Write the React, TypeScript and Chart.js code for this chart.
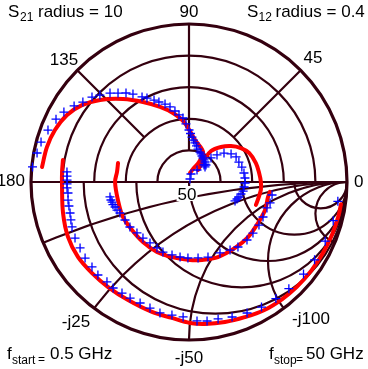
import React, { useEffect, useRef } from "react";
import { Chart, registerables } from "chart.js";
Chart.register(...registerables);

// ---- Data (magnitude, phase in degrees) ----
const S21_FULL_SCALE = 10;
const S12_FULL_SCALE = 0.4;

const s21SimMag = [9.35, 9.26, 9.1, 8.81, 8.34, 7.66, 6.71, 5.84, 5.09, 4.48, 3.81, 2.69, 2.1, 1.42, 0.86, 0.57];
const s21SimAng = [174.2, 166.2, 158.8, 151.2, 144.3, 137.3, 128.5, 119.9, 111.1, 103.1, 94.8, 81.9, 65.0, 63.4, 72.9, 83.7];

const s21MeasMag = [9.95, 9.79, 9.7, 9.51, 9.31, 9.07, 8.72, 8.41, 8.16, 7.88, 7.53, 7.2, 6.9, 6.6, 6.15, 5.94, 5.64, 5.41, 5.16, 4.9, 4.58, 4.29, 4.07, 3.68, 3.29, 3.07, 2.85, 2.67, 2.5, 2.33, 2.16, 2.02, 1.93, 1.84, 1.76, 1.69, 1.62, 1.52, 1.52, 1.39];
const s21MeasAng = [174.5, 169.2, 164.9, 159.8, 154.7, 150.8, 146.5, 143.0, 138.8, 135.7, 131.6, 128.6, 125.3, 122.5, 118.9, 116.6, 113.1, 110.6, 107.1, 104.2, 101.2, 98.5, 95.4, 93.0, 90.0, 88.2, 86.2, 83.9, 81.3, 78.2, 74.7, 69.9, 66.8, 63.4, 59.7, 55.7, 51.3, 48.4, 45.0, 43.2];

const s12SimMag = [0.038, 0.0674, 0.0962, 0.12, 0.14, 0.157, 0.169, 0.176, 0.179, 0.182, 0.183, 0.18, 0.179];
const s12SimAng = [53.1, 55.7, 54.6, 47.6, 40.6, 33.2, 25.8, 15.8, 7.3, 0, -6.3, -14.6, -18.9];

const s12MeasMag = [0.008, 0.0209, 0.0365, 0.0574, 0.0825, 0.0985, 0.115, 0.128, 0.135, 0.136, 0.139, 0.141, 0.142, 0.142, 0.14, 0.139, 0.135, 0.132, 0.129, 0.126];
const s12MeasAng = [71.6, 76.0, 56.3, 48.6, 47.5, 44.0, 39.6, 33.7, 28.0, 21.8, 15.8, 9.3, 4.1, -1.0, -5.2, -9.5, -13.0, -16.7, -19.5, -22.4];

const s11SimMag = [0.81, 0.806, 0.804, 0.821, 0.841, 0.848, 0.842, 0.839, 0.841, 0.855, 0.867, 0.892, 0.904, 0.915, 0.925, 0.94, 0.947, 0.952, 0.956, 0.96, 0.965, 0.97, 0.972];
const s11SimAng = [170.1, 175.5, -178.6, -166.2, -155.6, -146.0, -136.8, -127.6, -117.3, -105.9, -97.1, -89.6, -83.6, -75.6, -67.6, -59.7, -51.6, -44.2, -35.8, -27.4, -19.6, -12.7, -8.3];

const s11MeasMag = [0.775, 0.773, 0.772, 0.772, 0.773, 0.769, 0.774, 0.775, 0.778, 0.785, 0.793, 0.804, 0.806, 0.815, 0.816, 0.824, 0.818, 0.825, 0.821, 0.824, 0.826, 0.835, 0.849, 0.849, 0.855, 0.881, 0.887, 0.886, 0.897, 0.907, 0.915, 0.92, 0.925, 0.93, 0.935, 0.94, 0.945, 0.95];
const s11MeasAng = [175.3, 177.2, 179.1, -179.1, -177.2, -174.8, -171.5, -168.7, -165.4, -162.2, -159.0, -153.8, -148.8, -143.8, -138.8, -134.4, -129.4, -125.6, -121.1, -116.9, -112.0, -107.2, -102.5, -97.3, -92.5, -86.7, -82.6, -78.0, -72.3, -66.1, -59.9, -53.3, -46.9, -38.8, -31.8, -23.5, -15.0, -7.4];

const s22SimMag = [0.465, 0.46, 0.468, 0.464, 0.473, 0.472, 0.479, 0.487, 0.487, 0.494, 0.5, 0.509, 0.509, 0.511, 0.508, 0.513, 0.509, 0.516];
const s22SimAng = [165.0, 172.1, 180.0, -165.8, -152.1, -139.9, -127.5, -114.6, -102.8, -89.3, -80.5, -68.9, -55.1, -43.0, -30.7, -20.2, -10.8, -7.0];

const s22MeasMag = [0.509, 0.507, 0.503, 0.502, 0.494, 0.489, 0.479, 0.471, 0.47, 0.461, 0.459, 0.458, 0.464, 0.473, 0.474, 0.478, 0.481, 0.484, 0.49, 0.49, 0.503, 0.515, 0.519, 0.518, 0.52, 0.518, 0.52, 0.53, 0.532];
const s22MeasAng = [-169.3, -167.0, -165.4, -163.5, -161.3, -158.7, -155.8, -149.3, -142.7, -135.6, -129.4, -122.6, -115.9, -110.4, -103.1, -96.8, -90.8, -83.2, -75.8, -66.4, -58.9, -53.0, -45.0, -38.6, -31.6, -25.3, -18.4, -14.5, -8.9];

// ---- Grid definitions ----
const polarRings = [0.2, 0.4, 0.6, 0.8];
const polarSpokes = [45, 90, 135];
const polarSpokeStart = [0.4, 0.2, 0.4];
const smithR = [0.2, 0.5, 1, 2, 5];
const smithX = [0.2, 0.5, 1, 2, 5];

const GRID = "#34000f";
const FONT = '"Liberation Sans", Arial, Helvetica, sans-serif';

function toPoints(mag: number[], ang: number[], full: number) {
  return mag.map((m, i) => {
    const t = (ang[i] * Math.PI) / 180;
    return { x: (m / full) * Math.cos(t), y: (m / full) * Math.sin(t) };
  });
}

const gridPlugin = {
  id: "smithPolarGrid",
  beforeDatasetsDraw(chart: any) {
    const { ctx, scales } = chart;
    const xs = scales.x;
    const ys = scales.y;
    const cx = xs.getPixelForValue(0);
    const cy = ys.getPixelForValue(0);
    const R = xs.getPixelForValue(1) - cx;
    ctx.save();
    ctx.strokeStyle = GRID;
    ctx.lineWidth = 2.2;
    polarRings.forEach((r) => {
      ctx.beginPath();
      ctx.arc(cx, cy, r * R, Math.PI, 2 * Math.PI);
      ctx.stroke();
    });
    polarSpokes.forEach((a, i) => {
      const t = (a * Math.PI) / 180;
      const r0 = polarSpokeStart[i];
      ctx.beginPath();
      ctx.moveTo(cx + r0 * R * Math.cos(t), cy - r0 * R * Math.sin(t));
      ctx.lineTo(cx + R * Math.cos(t), cy - R * Math.sin(t));
      ctx.stroke();
    });
    ctx.save();
    ctx.beginPath();
    ctx.arc(cx, cy, R, 0, Math.PI);
    ctx.closePath();
    ctx.clip();
    smithR.forEach((r) => {
      ctx.beginPath();
      ctx.arc(cx + (R * r) / (1 + r), cy, R / (1 + r), 0, 2 * Math.PI);
      ctx.stroke();
    });
    smithX.forEach((x) => {
      ctx.beginPath();
      ctx.arc(cx + R, cy + R / x, R / x, 0, 2 * Math.PI);
      ctx.stroke();
    });
    ctx.restore();
    ctx.beginPath();
    ctx.moveTo(cx - R, cy);
    ctx.lineTo(cx + R, cy);
    ctx.stroke();
    ctx.lineWidth = 3.2;
    ctx.beginPath();
    ctx.arc(cx, cy, R, 0, 2 * Math.PI);
    ctx.stroke();
    ctx.restore();
  },
  afterDraw(chart: any) {
    const { ctx, scales } = chart;
    const cx = scales.x.getPixelForValue(0);
    const cy = scales.y.getPixelForValue(0);
    ctx.save();
    ctx.fillStyle = "#000";
    const t = (s: string, x: number, y: number, size: number, align: CanvasTextAlign = "left") => {
      ctx.font = `${size}px ${FONT}`;
      ctx.textAlign = align;
      ctx.textBaseline = "alphabetic";
      ctx.fillText(s, x, y);
    };
    ctx.font = `17px ${FONT}`;
    const w50 = ctx.measureText("50").width;
    ctx.fillStyle = "#fff";
    ctx.fillRect(cx - 2 - w50 / 2 - 1, cy + 4, w50 + 2, 15);
    ctx.fillStyle = "#000";
    t("50", cx - 2, cy + 18, 17, "center");
    t("90", cx, cy - 165, 17, "center");
    t("135", cx - 125, cy - 117, 17, "center");
    t("45", cx + 124, cy - 119, 17, "center");
    t("180", cx - 164, cy + 4, 17, "right");
    t("0", cx + 165, cy + 5, 17, "left");
    t("-j25", cx - 113, cy + 145, 17, "center");
    t("-j50", cx, cy + 181, 17, "center");
    t("-j100", cx + 122, cy + 142, 17, "center");
    t("S", 8, 17, 17);
    t("21", 20, 21, 12);
    t("radius = 10", 38, 17, 17);
    t("S", 247, 17, 17);
    t("12", 258.5, 21, 12);
    t("radius = 0.4", 275.5, 17, 17);
    t("f", 7, 359, 17);
    t("start", 12, 364, 12);
    t("=", 38, 363, 12);
    t("0.5 GHz", 50, 359, 17);
    t("f", 269, 359, 17);
    t("stop", 274, 364, 12);
    t("=", 296, 363, 12);
    t("50 GHz", 306, 359, 17);
    ctx.restore();
  },
};

export default function App() {
  const ref = useRef<HTMLCanvasElement | null>(null);
  useEffect(() => {
    if (!ref.current) return;
    const red = (data: any) => ({
      data,
      showLine: true,
      borderColor: "#ff0000",
      borderWidth: 4,
      pointRadius: 0,
      tension: 0.35,
      borderCapStyle: "round",
      borderJoinStyle: "round",
      clip: false,
      order: 1,
    });
    const blue = (data: any) => ({
      data,
      showLine: false,
      pointStyle: "cross",
      pointRadius: 4.5,
      pointBorderWidth: 1.3,
      pointBorderColor: "#0000ff",
      pointBackgroundColor: "#0000ff",
      borderColor: "#0000ff",
      clip: false,
      order: 0,
    });
    const chart = new Chart(ref.current, {
      type: "scatter",
      data: {
        datasets: [
          red(toPoints(s21SimMag, s21SimAng, S21_FULL_SCALE)),
          red(toPoints(s12SimMag, s12SimAng, S12_FULL_SCALE)),
          red(toPoints(s11SimMag, s11SimAng, 1)),
          red(toPoints(s22SimMag, s22SimAng, 1)),
          blue(toPoints(s21MeasMag, s21MeasAng, S21_FULL_SCALE)),
          blue(toPoints(s12MeasMag, s12MeasAng, S12_FULL_SCALE)),
          blue(toPoints(s11MeasMag, s11MeasAng, 1)),
          blue(toPoints(s22MeasMag, s22MeasAng, 1)),
        ] as any,
      },
      options: {
        responsive: false,
        maintainAspectRatio: false,
        animation: false,
        events: [],
        layout: { padding: { left: 31, right: 21, top: 24, bottom: 29 } },
        scales: {
          x: { type: "linear", min: -1, max: 1, display: false },
          y: { type: "linear", min: -1, max: 1, display: false },
        },
        plugins: { legend: { display: false }, tooltip: { enabled: false } },
      } as any,
      plugins: [gridPlugin],
    });
    return () => chart.destroy();
  }, []);
  return (
    <div style={{ position: "fixed", left: 0, top: 0, width: 368, height: 369, background: "#fff" }}>
      <canvas ref={ref} width={368} height={369} style={{ display: "block", width: 368, height: 369 }} />
    </div>
  );
}
